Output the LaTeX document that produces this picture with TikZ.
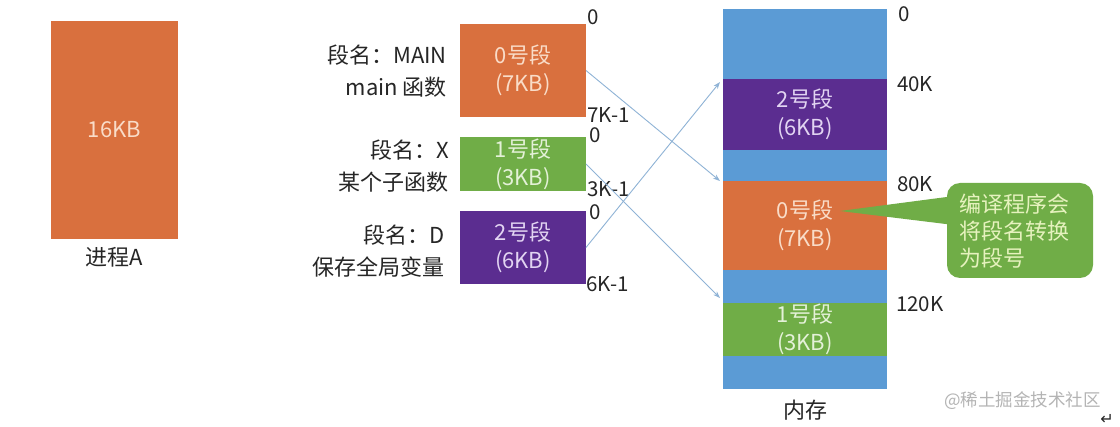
\documentclass[tikz,border=0pt]{standalone}
\usepackage{fontspec}
\setmainfont{Noto Sans CJK SC}
\newfontfamily\symfont{DejaVu Sans}
\usetikzlibrary{arrows.meta}
\definecolor{segorange}{HTML}{D9703E}
\definecolor{seggreen}{HTML}{70AD47}
\definecolor{segpurple}{HTML}{5B2D90}
\definecolor{memblue}{HTML}{5B9BD5}
\definecolor{arrowblue}{HTML}{8FB3D6}
\definecolor{txtorange}{HTML}{F9DCC8}
\definecolor{txtgreen}{HTML}{E4F1D8}
\definecolor{txtpurple}{HTML}{E2D4F2}
\definecolor{txtcall}{HTML}{E6F2BE}
\definecolor{labelgray}{HTML}{262626}
\definecolor{wmgray}{HTML}{B4B4B4}
\tikzset{
  blk/.style={inner sep=0pt, outer sep=0pt, draw=none, align=center,
    font=\fontsize{22}{28}\selectfont},
  seglabel/.style={inner sep=0pt, align=right, text=labelgray,
    font=\fontsize{22}{32}\selectfont},
  addr/.style={inner sep=0pt, anchor=west, text=labelgray, text height=13pt, text depth=0pt,
    font=\fontsize{20.5}{22}\selectfont},
  conn/.style={draw=arrowblue, line width=0.9pt, -{Stealth[length=7pt,width=5pt]}},
}
\begin{document}
\begin{tikzpicture}[x=1pt,y=-1pt]
\useasboundingbox (0,0) rectangle (1120,427);
\fill[white] (0,0) rectangle (1120,427);

% process A
\node[blk, fill=segorange, text=txtorange, minimum width=127pt, minimum height=218pt] (pa) at (114.5,130) {16KB};
\node[inner sep=0pt, text=labelgray, font=\fontsize{22}{26}\selectfont] (pal) at (114.5,257) {进程A};

% logical segments
\node[blk, fill=segorange, text=txtorange, minimum width=126pt, minimum height=93pt] (s0) at (523,70.5) {0号段\\(7KB)};
\node[blk, fill=seggreen, text=txtgreen, minimum width=126pt, minimum height=54pt] (s1) at (523,164) {1号段\\(3KB)};
\node[blk, fill=segpurple, text=txtpurple, minimum width=126pt, minimum height=73pt] (s2) at (523,247.5) {2号段\\(6KB)};

\node[seglabel, anchor=east] (l0) at (447,71) {段名：MAIN\\main 函数};
\node[seglabel, anchor=east] (l1) at (449,166) {段名：X\\某个子函数};
\node[seglabel, anchor=east] (l2) at (445,251) {段名：D\\保存全局变量};

\node[addr] (a0) at (587,18) {0};
\node[addr] (a1) at (587,116.5) {7K-1};
\node[addr] (a2) at (589,136.5) {0};
\node[addr] (a3) at (587,190) {3K-1};
\node[addr] (a4) at (589,213) {0};
\node[addr] (a5) at (586,285) {6K-1};

% memory
\node[blk, fill=memblue, minimum width=164pt, minimum height=380pt] (mem) at (805,199) {};
\node[blk, fill=segpurple, text=txtpurple, minimum width=164pt, minimum height=71pt] (m2) at (805,114.5) {2号段\\(6KB)};
\node[blk, fill=segorange, text=txtorange, minimum width=164pt, minimum height=89pt] (m0) at (805,225.5) {0号段\\(7KB)};
\node[blk, fill=seggreen, text=txtgreen, minimum width=164pt, minimum height=53pt] (m1) at (805,329.5) {1号段\\(3KB)};
\node[inner sep=0pt, text=labelgray, font=\fontsize{22}{26}\selectfont] (meml) at (805,410) {内存};

\node[addr] (b0) at (898,15) {0};
\node[addr] (b1) at (897,85) {40K};
\node[addr] (b2) at (897,185) {80K};
\node[addr] (b3) at (896,305) {120K};

% connectors
\draw[conn] (s0.east) -- ([shift={(-3,0)}]m0.north west);
\draw[conn] (s1.east) -- ([shift={(-3,-5)}]m1.north west);
\draw[conn] (s2.east) -- ([shift={(-3,3)}]m2.north west);

% callout
\coordinate (tip) at (840,211);
\fill[seggreen] (tip) -- (962,195) -- (962,226) -- cycle;
\node[inner sep=0pt, fill=seggreen, rounded corners=13pt, minimum width=146pt, minimum height=95pt] (call) at (1020,230.5) {};
\node[inner sep=0pt, anchor=west, align=left, text=txtcall, font=\fontsize{22}{27}\selectfont] (callt) at (959,231.5) {编译程序会\\将段名转换\\为段号};

% watermark
\node[inner sep=0pt, anchor=west, text=wmgray, font=\fontsize{17.5}{20}\selectfont] (wm) at (944,401) {@稀土掘金技术社区};
\node[inner sep=0pt, text=labelgray, font=\symfont\fontsize{16}{18}\selectfont] (ret) at (1107,419) {↵};
\end{tikzpicture}
\end{document}
